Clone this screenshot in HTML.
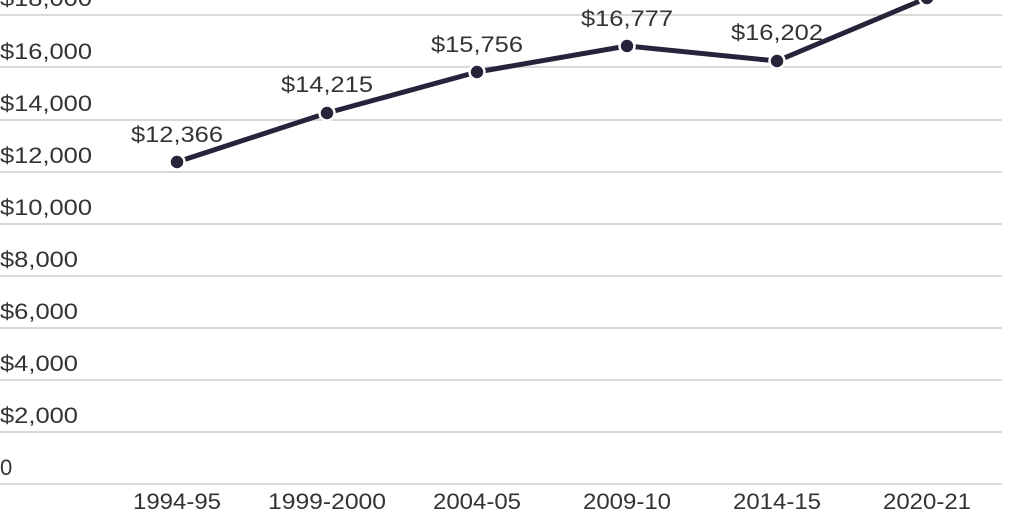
<!DOCTYPE html>
<html><head><style>
html,body{margin:0;padding:0;background:#fff;}
svg{display:block;}
text{font-family:"Liberation Sans",sans-serif;font-size:22px;fill:#333;}
</style></head><body>
<svg width="1024" height="512" viewBox="0 0 1024 512">
<g stroke="#d9d9d9" stroke-width="2">
<line x1="0" x2="1002" y1="15" y2="15"/>
<line x1="0" x2="1002" y1="67" y2="67"/>
<line x1="0" x2="1002" y1="120" y2="120"/>
<line x1="0" x2="1002" y1="172" y2="172"/>
<line x1="0" x2="1002" y1="224" y2="224"/>
<line x1="0" x2="1002" y1="276" y2="276"/>
<line x1="0" x2="1002" y1="328" y2="328"/>
<line x1="0" x2="1002" y1="380" y2="380"/>
<line x1="0" x2="1002" y1="432" y2="432"/>
<line x1="0" x2="1002" y1="484" y2="484"/>
</g>
<g>
<text x="0" y="6" textLength="92" lengthAdjust="spacingAndGlyphs">$18,000</text>
<text x="0" y="59" textLength="92" lengthAdjust="spacingAndGlyphs">$16,000</text>
<text x="0" y="111" textLength="92" lengthAdjust="spacingAndGlyphs">$14,000</text>
<text x="0" y="163" textLength="92" lengthAdjust="spacingAndGlyphs">$12,000</text>
<text x="0" y="215" textLength="92" lengthAdjust="spacingAndGlyphs">$10,000</text>
<text x="0" y="267" textLength="78" lengthAdjust="spacingAndGlyphs">$8,000</text>
<text x="0" y="319" textLength="78" lengthAdjust="spacingAndGlyphs">$6,000</text>
<text x="0" y="371" textLength="78" lengthAdjust="spacingAndGlyphs">$4,000</text>
<text x="0" y="423" textLength="78" lengthAdjust="spacingAndGlyphs">$2,000</text>
<text x="0" y="475">0</text>
</g>
<g text-anchor="middle">
<text x="177" y="509" textLength="88" lengthAdjust="spacingAndGlyphs">1994-95</text>
<text x="327" y="509" textLength="118" lengthAdjust="spacingAndGlyphs">1999-2000</text>
<text x="477" y="509" textLength="88" lengthAdjust="spacingAndGlyphs">2004-05</text>
<text x="627" y="509" textLength="88" lengthAdjust="spacingAndGlyphs">2009-10</text>
<text x="777" y="509" textLength="88" lengthAdjust="spacingAndGlyphs">2014-15</text>
<text x="927" y="509" textLength="88" lengthAdjust="spacingAndGlyphs">2020-21</text>
</g>
<polyline points="177,162 327,113 477,72 627,46 777,61 927,-2" fill="none" stroke="#26233a" stroke-width="5" stroke-linejoin="round"/>
<g fill="#26233a" stroke="#fff" stroke-width="2.5">
<circle cx="177" cy="162" r="7.5"/>
<circle cx="327" cy="113" r="7.5"/>
<circle cx="477" cy="72" r="7.5"/>
<circle cx="627" cy="46" r="7.5"/>
<circle cx="777" cy="61" r="7.5"/>
<circle cx="927" cy="-2" r="7.5"/>
</g>
<g text-anchor="middle">
<text x="177" y="142" textLength="92" lengthAdjust="spacingAndGlyphs">$12,366</text>
<text x="327" y="92" textLength="92" lengthAdjust="spacingAndGlyphs">$14,215</text>
<text x="477" y="52" textLength="92" lengthAdjust="spacingAndGlyphs">$15,756</text>
<text x="627" y="26" textLength="92" lengthAdjust="spacingAndGlyphs">$16,777</text>
<text x="777" y="40" textLength="92" lengthAdjust="spacingAndGlyphs">$16,202</text>
</g>
</svg>
</body></html>
